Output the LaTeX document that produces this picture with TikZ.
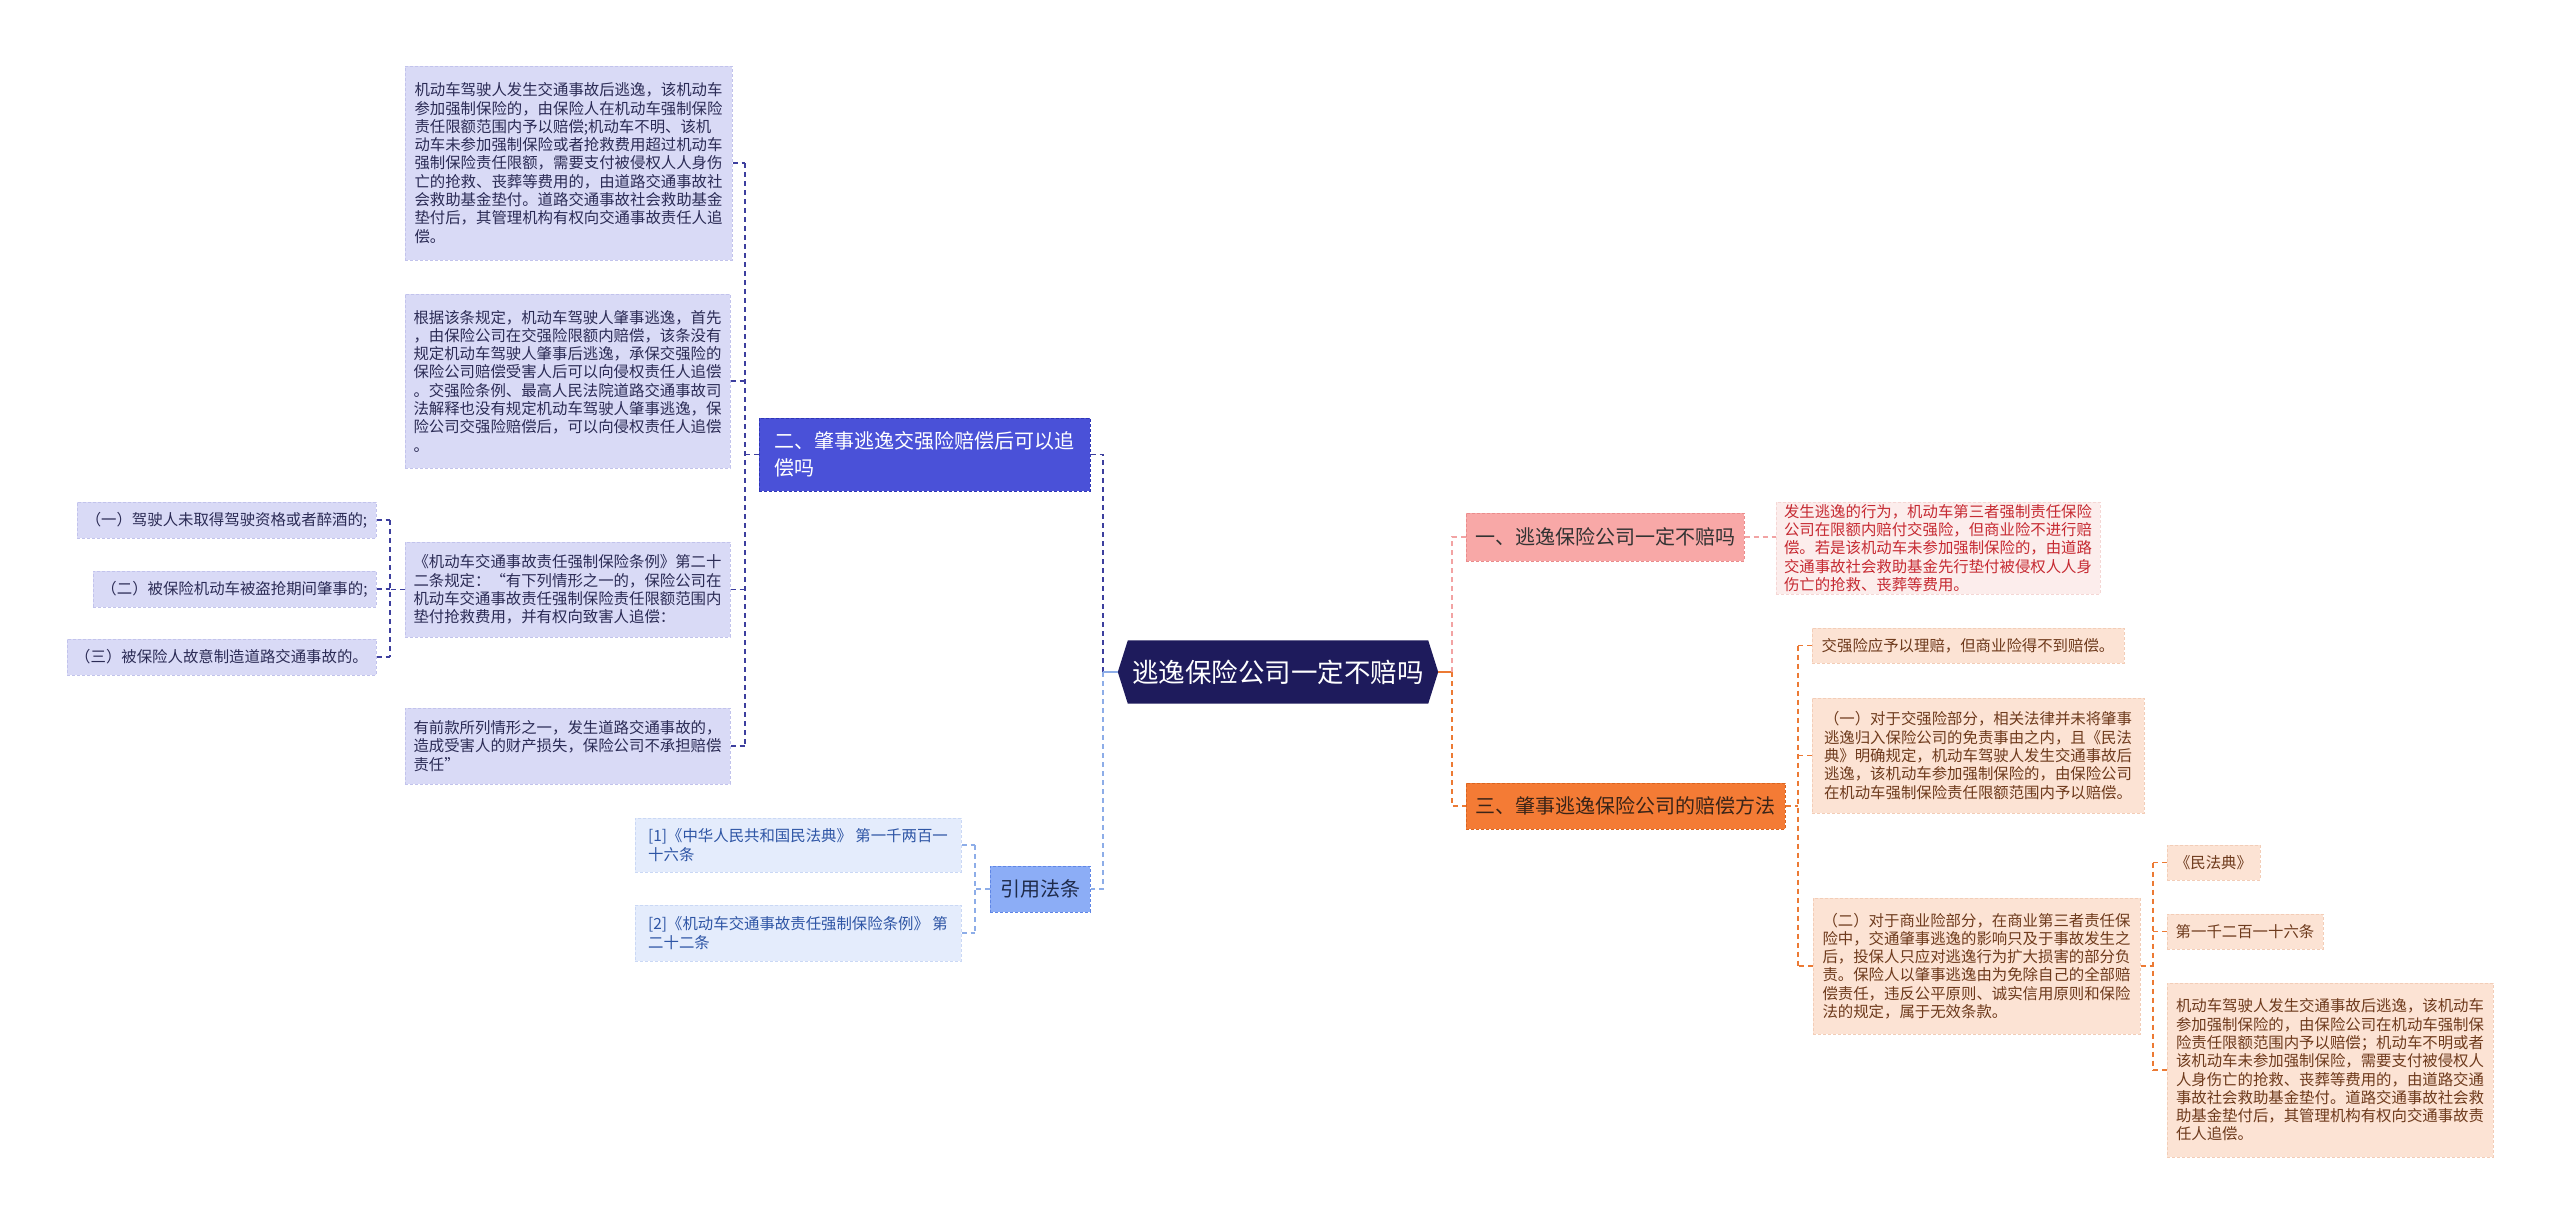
\documentclass[tikz,border=0pt]{standalone}
\usepackage{fontspec}
\setmainfont{Noto Sans CJK SC}
\usetikzlibrary{backgrounds}
\definecolor{navy}{HTML}{1E1B5C}
\definecolor{lavfill}{HTML}{D9DAF6}
\definecolor{lavline}{HTML}{C2C3EC}
\definecolor{lavtext}{HTML}{2B2B55}
\definecolor{bluefill}{HTML}{4A51D8}
\definecolor{blueline}{HTML}{2F36B5}
\definecolor{conndark}{HTML}{3D3F9E}
\definecolor{reffill}{HTML}{E4ECFC}
\definecolor{refline}{HTML}{CAD8F5}
\definecolor{reftext}{HTML}{2E55A5}
\definecolor{citefill}{HTML}{8CADF6}
\definecolor{citeline}{HTML}{5F86E6}
\definecolor{citetext}{HTML}{1E2A4A}
\definecolor{connlight}{HTML}{8DADE8}
\definecolor{pinkfill}{HTML}{F8A8A7}
\definecolor{pinkline}{HTML}{EA8C8C}
\definecolor{pinktext}{HTML}{333333}
\definecolor{dfill}{HTML}{FCEDEC}
\definecolor{dline}{HTML}{F5D6D4}
\definecolor{dtext}{HTML}{C62A32}
\definecolor{connpink}{HTML}{F2A3A3}
\definecolor{orfill}{HTML}{F47B35}
\definecolor{orline}{HTML}{DA6420}
\definecolor{ortext}{HTML}{3A2418}
\definecolor{peachfill}{HTML}{FCE3D4}
\definecolor{peachline}{HTML}{F3CDB7}
\definecolor{peachtext}{HTML}{6E3A1C}
\definecolor{connorange}{HTML}{EC7A34}
\begin{document}
\begin{tikzpicture}[x=1pt,y=-1pt,
  box/.style={rectangle, inner sep=0pt, align=left, dash pattern=on 3pt off 2pt, line width=1pt},
  small/.style={font=\fontsize{15.4}{18.3}\selectfont},
  big/.style={font=\fontsize{20}{26.7}\selectfont},
  lav/.style={box, small, fill=lavfill, draw=lavline, text=lavtext},
  bluebox/.style={box, big, fill=bluefill, draw=blueline, text=white},
  refbox/.style={box, small, fill=reffill, draw=refline, text=reftext},
  citebox/.style={box, big, fill=citefill, draw=citeline, text=citetext},
  pinkbox/.style={box, big, fill=pinkfill, draw=pinkline, text=pinktext},
  dbox/.style={box, small, fill=dfill, draw=dline, text=dtext},
  orbox/.style={box, big, fill=orfill, draw=orline, text=ortext},
  peachbox/.style={box, small, fill=peachfill, draw=peachline, text=peachtext},
  conn/.style={line width=1.6pt, dash pattern=on 5pt off 4pt},
]
\useasboundingbox (0,0) rectangle (2560,1224);

% central node
\node[inner sep=0pt, minimum width=320pt, minimum height=63pt, text=white,
  font=\fontsize{26.5}{30}\selectfont] (C) at (1278,672) {逃逸保险公司一定不赔吗};
\begin{scope}[on background layer]
\fill[white] (0,0) rectangle (2560,1224);
\fill[navy] (C.west) -- ([xshift=10pt]C.north west) -- ([xshift=-10pt]C.north east)
  -- (C.east) -- ([xshift=-10pt]C.south east) -- ([xshift=10pt]C.south west) -- cycle;
\end{scope}

% left branch
\node[bluebox, minimum width=331pt, minimum height=73pt] (B2) at (924.5,454.5)
  {二、肇事逃逸交强险赔偿后可以追\\偿吗};

\node[lav, minimum width=327pt, minimum height=194pt] (A1) at (568.5,163) {%
机动车驾驶人发生交通事故后逃逸，该机动车\\
参加强制保险的，由保险人在机动车强制保险\\
责任限额范围内予以赔偿;机动车不明、该机\\
动车未参加强制保险或者抢救费用超过机动车\\
强制保险责任限额，需要支付被侵权人人身伤\\
亡的抢救、丧葬等费用的，由道路交通事故社\\
会救助基金垫付。道路交通事故社会救助基金\\
垫付后，其管理机构有权向交通事故责任人追\\
偿。};

\node[lav, minimum width=325pt, minimum height=174pt] (A2) at (567.5,381) {%
根据该条规定，机动车驾驶人肇事逃逸，首先\\
，由保险公司在交强险限额内赔偿，该条没有\\
规定机动车驾驶人肇事后逃逸，承保交强险的\\
保险公司赔偿受害人后可以向侵权责任人追偿\\
。交强险条例、最高人民法院道路交通事故司\\
法解释也没有规定机动车驾驶人肇事逃逸，保\\
险公司交强险赔偿后，可以向侵权责任人追偿\\
。};

\node[lav, minimum width=325pt, minimum height=95pt] (A3) at (567.5,589.5) {%
《机动车交通事故责任强制保险条例》第二十\\
二条规定：“有下列情形之一的，保险公司在\\
机动车交通事故责任强制保险责任限额范围内\\
垫付抢救费用，并有权向致害人追偿：};

\node[lav, minimum width=325pt, minimum height=76pt] (A4) at (567.5,746) {%
有前款所列情形之一，发生道路交通事故的，\\
造成受害人的财产损失，保险公司不承担赔偿\\
责任”};

\node[lav, minimum width=299pt, minimum height=36pt] (L1) at (226.5,520) {（一）驾驶人未取得驾驶资格或者醉酒的;};
\node[lav, minimum width=283pt, minimum height=36pt] (L2) at (234.5,589) {（二）被保险机动车被盗抢期间肇事的;};
\node[lav, minimum width=309pt, minimum height=36pt] (L3) at (221.5,657) {（三）被保险人故意制造道路交通事故的。};

% citations
\node[citebox, minimum width=100pt, minimum height=46pt, align=center] (Cite) at (1040,889) {引用法条};
\node[refbox, minimum width=326pt, minimum height=54pt] (R1) at (798,845)
  {[1]《中华人民共和国民法典》 第一千两百一\\十六条};
\node[refbox, minimum width=326pt, minimum height=56pt] (R2) at (798,933)
  {[2]《机动车交通事故责任强制保险条例》 第\\二十二条};

% right branch
\node[pinkbox, minimum width=278pt, minimum height=48pt, align=center] (N1) at (1605,537) {一、逃逸保险公司一定不赔吗};
\node[dbox, minimum width=324pt, minimum height=92pt] (D1) at (1938,548) {%
发生逃逸的行为，机动车第三者强制责任保险\\
公司在限额内赔付交强险，但商业险不进行赔\\
偿。若是该机动车未参加强制保险的，由道路\\
交通事故社会救助基金先行垫付被侵权人人身\\
伤亡的抢救、丧葬等费用。};

\node[orbox, minimum width=319pt, minimum height=46pt, align=center] (N3) at (1625.5,806) {三、肇事逃逸保险公司的赔偿方法};
\node[peachbox, minimum width=312pt, minimum height=35pt] (D3a) at (1968,645.5) {交强险应予以理赔，但商业险得不到赔偿。};
\node[peachbox, minimum width=332pt, minimum height=115pt] (D3b) at (1978,755.5) {%
（一）对于交强险部分，相关法律并未将肇事\\
逃逸归入保险公司的免责事由之内，且《民法\\
典》明确规定，机动车驾驶人发生交通事故后\\
逃逸，该机动车参加强制保险的，由保险公司\\
在机动车强制保险责任限额范围内予以赔偿。};
\node[peachbox, minimum width=327pt, minimum height=136pt] (D3c) at (1976.5,966) {%
（二）对于商业险部分，在商业第三者责任保\\
险中，交通肇事逃逸的影响只及于事故发生之\\
后，投保人只应对逃逸行为扩大损害的部分负\\
责。保险人以肇事逃逸由为免除自己的全部赔\\
偿责任，违反公平原则、诚实信用原则和保险\\
法的规定，属于无效条款。};
\node[peachbox, minimum width=93pt, minimum height=35pt] (D4a) at (2213.5,862.5) {《民法典》};
\node[peachbox, minimum width=156pt, minimum height=35pt] (D4b) at (2245,931.5) {第一千二百一十六条};
\node[peachbox, minimum width=326pt, minimum height=174pt] (D4c) at (2330,1070) {%
机动车驾驶人发生交通事故后逃逸，该机动车\\
参加强制保险的，由保险公司在机动车强制保\\
险责任限额范围内予以赔偿；机动车不明或者\\
该机动车未参加强制保险，需要支付被侵权人\\
人身伤亡的抢救、丧葬等费用的，由道路交通\\
事故社会救助基金垫付。道路交通事故社会救\\
助基金垫付后，其管理机构有权向交通事故责\\
任人追偿。};

% junction coordinates
\coordinate (jL) at (745,0);
\coordinate (jLL) at (390,0);
\coordinate (jC) at (1103,0);
\coordinate (jRef) at (975,0);
\coordinate (jR) at (1452,0);
\coordinate (jR3) at (1798,0);
\coordinate (jR4) at (2153,0);

% left connectors
\draw[conn, conndark] (jL |- A1.east) -- (jL |- A4.east);
\foreach \n in {A1,A2,A3,A4} \draw[conn, conndark] (\n.east) -- (\n.east -| jL);
\draw[conn, conndark] (B2.west) -- (B2.west -| jL);
\draw[conn, conndark] (jLL |- L1.east) -- (jLL |- L3.east);
\foreach \n in {L1,L2,L3} \draw[conn, conndark] (\n.east) -- (\n.east -| jLL);
\draw[conn, conndark] (A3.west) -- (A3.west -| jLL);
\draw[conn, conndark] (B2.east) -- (B2.east -| jC) -- (jC |- C.west);
\draw[line width=1.6pt, connlight] (C.west) -- (C.west -| jC);
\draw[conn, connlight] (jC |- C.west) -- (jC |- Cite.east) -- (Cite.east);
\draw[conn, connlight] (Cite.west) -- (Cite.west -| jRef);
\draw[conn, connlight] (jRef |- R1.east) -- (jRef |- R2.east);
\foreach \n in {R1,R2} \draw[conn, connlight] (\n.east) -- (\n.east -| jRef);

% right connectors
\draw[line width=1.6pt, connorange] (C.east) -- (C.east -| jR);
\draw[conn, connpink] (jR |- C.east) -- (jR |- N1.west) -- (N1.west);
\draw[conn, connorange] (jR |- C.east) -- (jR |- N3.west) -- (N3.west);
\draw[conn, connpink] (N1.east) -- (N1.east -| D1.west);
\draw[conn, connorange] (N3.east) -- (N3.east -| jR3);
\draw[conn, connorange] (jR3 |- D3a.west) -- (jR3 |- D3c.west);
\foreach \n in {D3a,D3b,D3c} \draw[conn, connorange] (\n.west) -- (\n.west -| jR3);
\draw[conn, connorange] (D3c.east) -- (D3c.east -| jR4);
\draw[conn, connorange] (jR4 |- D4a.west) -- (jR4 |- D4c.west);
\foreach \n in {D4a,D4b,D4c} \draw[conn, connorange] (\n.west) -- (\n.west -| jR4);
\end{tikzpicture}
\end{document}
